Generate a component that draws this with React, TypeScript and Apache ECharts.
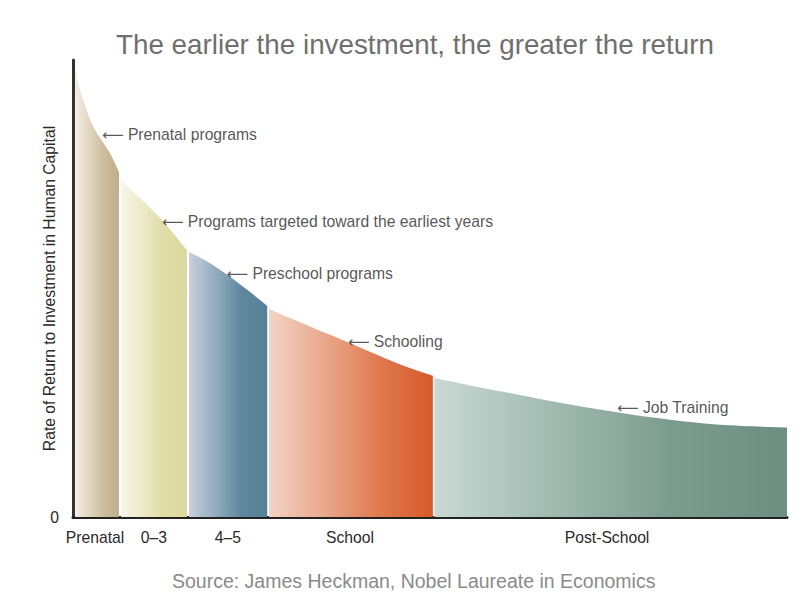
import React, { useEffect, useRef } from "react";
import * as echarts from "echarts";

const titleText = "The earlier the investment, the greater the return";
const sourceText = "Source: James Heckman, Nobel Laureate in Economics";
const yAxisName = "Rate of Return to Investment in Human Capital";

const stageNames = ["Prenatal", "0–3", "4–5", "School", "Post-School"];
const stageCenters = [3.08, 11.34, 21.7, 38.8, 74.8];

const prenatalCurve = [[0.3, 99], [0.74, 94.9], [1.44, 91.2], [2.84, 85.4], [5.18, 79.6], [6.44, 75.5]];
const age03Curve = [[6.72, 73.7], [9.38, 69.8], [12.46, 65.0], [15.97, 58.4]];
const age45Curve = [[16.25, 58.0], [18.9, 55.8], [21.6, 53.0], [24.4, 49.7], [27.2, 46.2]];
const schoolCurve = [[27.45, 45.5], [33.6, 41.4], [38.4, 38.3], [42.0, 35.9], [46.8, 32.8], [50.4, 30.9]];
const postSchoolCurve = [[50.6, 30.4], [55.6, 28.8], [62.6, 26.7], [69.6, 24.6], [76.6, 22.8], [83.6, 21.3], [90.6, 20.2], [100, 19.6]];

const annotationTexts = ["Prenatal programs", "Programs targeted toward the earliest years", "Preschool programs", "Schooling", "Job Training"];
const annotationX = [4.06, 12.46, 21.5, 38.5, 76.2];
const annotationY = [83.6, 64.6, 53.2, 38.3, 23.9];

const segmentCurves = [prenatalCurve, age03Curve, age45Curve, schoolCurve, postSchoolCurve];
const segmentColors = [
  ["#f3eee5", "#e0d5c0", "#cbbc9b", "#bfae8a"],
  ["#f7f5e8", "#ece9c8", "#dfdca5", "#dcd99f"],
  ["#c8d0db", "#93adbf", "#5f879e", "#57809a"],
  ["#f3d3c5", "#eaa98c", "#e07a50", "#d65a2b"],
  ["#cad8d4", "#a1bbb1", "#7d9c90", "#6c8f82"],
];

const FONT = "'Liberation Sans', 'DejaVu Sans', Arial, sans-serif";
const FS = 15.7;

export default function App() {
  const ref = useRef<HTMLDivElement>(null);
  useEffect(() => {
    if (!ref.current) return;
    const chart = echarts.init(ref.current, undefined, { renderer: "svg" });
    const areaSeries = segmentCurves.map((curve, i) => ({
      type: "line",
      name: stageNames[i],
      data: curve,
      smooth: 0.35,
      showSymbol: false,
      symbol: "none",
      lineStyle: { width: 0 },
      areaStyle: {
        opacity: 1,
        color: new echarts.graphic.LinearGradient(
          0, 0, 1, 0,
          segmentColors[i].map((c, k) => ({ offset: k / (segmentColors[i].length - 1), color: c }))
        ),
      },
      silent: true,
      z: 2,
    }));
    chart.setOption({
      animation: false,
      backgroundColor: "#ffffff",
      title: [
        {
          text: titleText,
          left: 111,
          top: 25,
          textStyle: { fontFamily: FONT, fontSize: 27.8, fontWeight: "normal", color: "#6f6f6f" },
        },
        {
          text: sourceText,
          left: 167,
          top: 566,
          textStyle: { fontFamily: FONT, fontSize: 19.5, fontWeight: "normal", color: "#8a8a8a" },
        },
      ],
      grid: { left: 73, right: 21, top: 60, bottom: 86 },
      xAxis: {
        type: "value",
        min: 0,
        max: 100,
        splitLine: { show: false },
        axisTick: { show: false },
        axisLine: { show: true, lineStyle: { color: "#222", width: 3 } },
        axisLabel: {
          customValues: stageCenters,
          formatter: (v: number) => {
            const idx = stageCenters.findIndex((c) => Math.abs(c - v) < 1e-6);
            return idx >= 0 ? stageNames[idx] : "";
          },
          margin: 12,
          fontFamily: FONT,
          fontSize: FS,
          color: "#2a2a2a",
        },
      },
      yAxis: {
        type: "value",
        min: 0,
        max: 100,
        name: yAxisName,
        nameLocation: "middle",
        nameRotate: 90,
        nameGap: 16,
        nameMoveOverlap: false,
        nameTextStyle: { fontFamily: FONT, fontSize: FS, color: "#2a2a2a" },
        splitLine: { show: false },
        axisTick: { show: false },
        axisLine: { show: true, lineStyle: { color: "#333", width: 3 } },
        axisLabel: {
          customValues: [0],
          formatter: (v: number) => (v === 0 ? "0" : ""),
          margin: 14,
          fontFamily: FONT,
          fontSize: FS,
          color: "#2a2a2a",
        },
      },
      series: [
        ...areaSeries,
        {
          type: "scatter",
          data: annotationX.map((x, i) => ({ value: [x, annotationY[i]], name: annotationTexts[i] })),
          symbolSize: 0.1,
          itemStyle: { color: "transparent" },
          silent: true,
          z: 5,
          label: {
            show: true,
            position: "right",
            distance: 0,
            formatter: (p: any) => "{a|⟵} " + p.name,
            fontFamily: FONT,
            fontSize: FS,
            color: "#2a2a2a",
            rich: {
              a: { fontFamily: "'DejaVu Sans'", fontSize: 15, color: "#2a2a2a" },
            },
          },
        },
      ],
    });
    return () => chart.dispose();
  }, []);
  return (
    <div
      ref={ref}
      style={{ position: "fixed", left: 0, top: 0, width: 808, height: 603, background: "#fff" }}
    />
  );
}
